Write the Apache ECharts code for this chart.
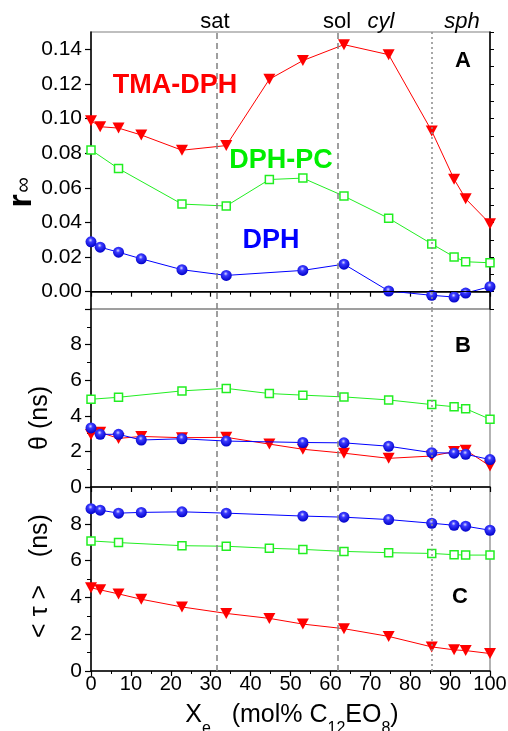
<!DOCTYPE html>
<html>
<head>
<meta charset="utf-8">
<script src="https://cdn.jsdelivr.net/npm/echarts@6/dist/echarts.min.js"></script>
<style>
  html, body { margin: 0; padding: 0; background: #fff; }
  #chart { width: 508px; height: 731px; }
</style>
</head>
<body>
<div id="chart"></div>
<script>
// x positions (mol% C12EO8) per probe
const xTma = [0, 2.3, 6.9, 12.6, 22.8, 33.9, 44.7, 53.1, 63.4, 74.6, 85.4, 91, 93.9, 100];
const xPc  = [0, 6.9, 22.8, 33.9, 44.7, 53.1, 63.4, 74.6, 85.4, 91, 93.9, 100];
const xDph = [0, 2.3, 6.9, 12.6, 22.8, 33.9, 53.1, 63.4, 74.6, 85.4, 91, 93.9, 100];

// panel A : r-infinity
const rTma = [0.0988, 0.0953, 0.0945, 0.0905, 0.0817, 0.0844, 0.1227, 0.1335, 0.1427, 0.1369, 0.0928, 0.065, 0.0537, 0.0393];
const rPc  = [0.0819, 0.0711, 0.0506, 0.0495, 0.0648, 0.0656, 0.0552, 0.0424, 0.0276, 0.0201, 0.0173, 0.0167];
const rDph = [0.0288, 0.0257, 0.0228, 0.019, 0.0127, 0.0094, 0.0123, 0.0159, 0.0004, -0.0021, -0.0031, -0.0008, 0.0029];

// panel B : theta (ns)
const thTma = [2.95, 3.07, 2.73, 2.84, 2.77, 2.79, 2.41, 2.12, 1.9, 1.61, 1.74, 1.99, 2.07, 1.18];
const thPc  = [4.93, 5.04, 5.40, 5.54, 5.25, 5.16, 5.06, 4.89, 4.63, 4.51, 4.40, 3.81];
const thDph = [3.32, 2.96, 2.96, 2.64, 2.71, 2.58, 2.5, 2.48, 2.29, 1.93, 1.9, 1.84, 1.54];

// panel C : <tau> (ns)
const tauTma = [4.52, 4.41, 4.19, 3.9, 3.48, 3.13, 2.86, 2.55, 2.3, 1.88, 1.31, 1.15, 1.11, 0.95];
const tauPc  = [7.07, 6.98, 6.81, 6.78, 6.67, 6.61, 6.5, 6.43, 6.39, 6.32, 6.3, 6.3];
const tauDph = [8.82, 8.74, 8.58, 8.62, 8.65, 8.58, 8.42, 8.36, 8.23, 8.03, 7.92, 7.87, 7.65];

// phase boundaries
const dashedX = [31.6, 61.8];
const dottedX = [85.4];

// x title pieces: [text, isSubscript]
const xTitle = [['X', 0], ['e', 1], ['   (mol% C', 0], ['12', 1], ['EO', 0], ['8', 1], [')', 0]];

const FONT = '"Liberation Sans", Arial, sans-serif';
const RED = '#ff0000', GREEN = '#22ee22', BLUE = '#0000ff';

const zip = (xs, ys) => xs.map((x, i) => [x, ys[i]]);

const ball = {
  type: 'radial', x: 0.45, y: 0.35, r: 0.65,
  colorStops: [
    { offset: 0, color: '#d8d8ff' },
    { offset: 0.3, color: '#3a3aff' },
    { offset: 1, color: '#0000c8' },
  ],
};

const phaseLines = extra => ({
  symbol: 'none', silent: true, label: { show: false },
  data: [
    ...dashedX.map(v => ({ xAxis: v, lineStyle: { color: '#808080', type: [6, 4], width: 1.5 } })),
    ...dottedX.map(v => ({ xAxis: v, lineStyle: { color: '#8a8a8a', type: [2, 3], width: 1.5 } })),
    ...(extra || []),
  ],
});

// 三个面板上下拼接，关掉 v6 的 outerBounds 自动收缩
const grids = [
  { left: 91, right: 18, top: 32, height: 277 },
  { left: 91, right: 18, top: 309, height: 178 },
  { left: 91, right: 18, top: 487, height: 184 },
].map(g => Object.assign(g, {
  show: true, borderColor: '#808080', borderWidth: 1.2, containLabel: false, outerBoundsMode: 'none',
}));

const xAxis = [0, 1, 2].map(i => ({
  type: 'value', gridIndex: i, min: 0, max: 100, interval: 10,
  axisLine: { show: true, lineStyle: { color: '#000', width: 1.5 } },
  axisTick: { show: true, inside: false, length: 5, lineStyle: { color: '#000', width: 1.2 } },
  minorTick: { show: true, splitNumber: 2, length: 3, lineStyle: { color: '#000', width: 1 } },
  splitLine: { show: false },
  axisLabel: { show: i === 2, color: '#000', fontSize: 20, fontFamily: FONT, margin: 3 },
}));

const yCommon = {
  type: 'value',
  axisLine: { show: true, lineStyle: { color: '#000', width: 1.5 } },
  axisTick: { show: true, inside: false, length: 6, lineStyle: { color: '#000', width: 1.2 } },
  splitLine: { show: false },
};
const yLabel = { color: '#000', fontSize: 21, fontFamily: FONT, margin: 9 };

const yAxis = [
  Object.assign({}, yCommon, {
    gridIndex: 0, min: -0.01, max: 0.15, splitNumber: 8, minInterval: 0.02, maxInterval: 0.02,
    minorTick: { show: false },
    axisLabel: Object.assign({}, yLabel, { showMinLabel: false, showMaxLabel: false, formatter: v => v.toFixed(2) }),
  }),
  Object.assign({}, yCommon, {
    gridIndex: 1, min: 0, max: 10, interval: 2,
    minorTick: { show: true, splitNumber: 2, length: 4, lineStyle: { color: '#000' } },
    axisLabel: Object.assign({}, yLabel, { showMaxLabel: false }),
  }),
  Object.assign({}, yCommon, {
    gridIndex: 2, min: 0, max: 10, interval: 2,
    minorTick: { show: true, splitNumber: 2, length: 4, lineStyle: { color: '#000' } },
    axisLabel: Object.assign({}, yLabel, { showMaxLabel: false }),
  }),
  // minor ticks for panel A (every 0.01)
  Object.assign({}, yCommon, {
    gridIndex: 0, min: -0.01, max: 0.15, interval: 0.01,
    axisTick: { show: true, length: 4, lineStyle: { color: '#000', width: 1 } },
    axisLabel: { show: false },
  }),
];

const pc = (data, xi, yi, ml) => ({
  type: 'line', xAxisIndex: xi, yAxisIndex: yi, data, z: 2,
  symbol: 'rect', symbolSize: 8,
  lineStyle: { color: GREEN, width: 1 },
  itemStyle: { color: '#fff', borderColor: GREEN, borderWidth: 1.5 },
  markLine: ml,
});
const tma = (data, xi, yi) => ({
  type: 'line', xAxisIndex: xi, yAxisIndex: yi, data, z: 3,
  symbol: 'triangle', symbolRotate: 180, symbolSize: [12, 11],
  lineStyle: { color: RED, width: 1 },
  itemStyle: { color: RED },
});
const dph = (data, xi, yi) => ({
  type: 'line', xAxisIndex: xi, yAxisIndex: yi, data, z: 4,
  symbol: 'circle', symbolSize: 11,
  lineStyle: { color: BLUE, width: 1 },
  itemStyle: { color: ball },
});

const series = [
  pc(zip(xPc, rPc), 0, 0, phaseLines([{ yAxis: 0, lineStyle: { color: '#000', type: 'solid', width: 1.2 } }])),
  tma(zip(xTma, rTma), 0, 0),
  dph(zip(xDph, rDph), 0, 0),
  pc(zip(xPc, thPc), 1, 1, phaseLines()),
  tma(zip(xTma, thTma), 1, 1),
  dph(zip(xDph, thDph), 1, 1),
  pc(zip(xPc, tauPc), 2, 2, phaseLines()),
  tma(zip(xTma, tauTma), 2, 2),
  dph(zip(xDph, tauDph), 2, 2),
];

const txt = (x, y, text, opts) => ({
  type: 'text', x, y, z: 100,
  rotation: (opts && opts.rotation) || 0,
  style: Object.assign({
    text, fill: '#000', font: `22px ${FONT}`, align: 'center', verticalAlign: 'middle',
  }, opts && opts.style),
});

// x 轴标题：逐段量宽后拼接，下标下移
function xTitleGraphics(cx) {
  const ctx = document.createElement('canvas').getContext('2d');
  const fontOf = sub => `${sub ? 16 : 25}px ${FONT}`;
  const widths = xTitle.map(([t, sub]) => { ctx.font = fontOf(sub); return ctx.measureText(t).width; });
  let x = cx - widths.reduce((a, b) => a + b, 0) / 2;
  return xTitle.map(([t, sub], i) => {
    const el = {
      type: 'text', x, y: sub ? 737 : 728, z: 100,
      style: { text: t, fill: '#000', font: fontOf(sub), align: 'left', verticalAlign: 'bottom' },
    };
    x += widths[i];
    return el;
  });
}

const graphic = [
  txt(215, 22, 'sat'),
  txt(337, 22, 'sol'),
  txt(381, 22, 'cyl', { style: { font: `italic 22px ${FONT}` } }),
  txt(462, 22, 'sph', { style: { font: `italic 22px ${FONT}` } }),
  txt(175, 86, 'TMA-DPH', { style: { fill: RED, font: `bold 27px ${FONT}` } }),
  txt(281, 161, 'DPH-PC', { style: { fill: '#00ee00', font: `bold 27px ${FONT}` } }),
  txt(271, 241, 'DPH', { style: { fill: BLUE, font: `bold 27px ${FONT}` } }),
  txt(463, 61, 'A', { style: { font: `bold 22px ${FONT}` } }),
  txt(463, 346, 'B', { style: { font: `bold 22px ${FONT}` } }),
  txt(460, 597, 'C', { style: { font: `bold 22px ${FONT}` } }),
  txt(22, 201, 'r', { rotation: Math.PI / 2, style: { font: `bold 34px ${FONT}` } }),
  txt(24, 185, '∞', { rotation: Math.PI / 2, style: { font: `22px ${FONT}` } }),
  txt(40, 418, 'θ (ns)', { rotation: Math.PI / 2, style: { font: `25px ${FONT}` } }),
  txt(40, 576, '< τ >    (ns)', { rotation: Math.PI / 2, style: { font: `25px ${FONT}` } }),
  ...xTitleGraphics(292),
];

const chart = echarts.init(document.getElementById('chart'), null, { renderer: 'canvas' });
chart.setOption({
  backgroundColor: '#fff',
  animation: false,
  grid: grids,
  xAxis,
  yAxis,
  series,
  graphic,
});
</script>
</body>
</html>
